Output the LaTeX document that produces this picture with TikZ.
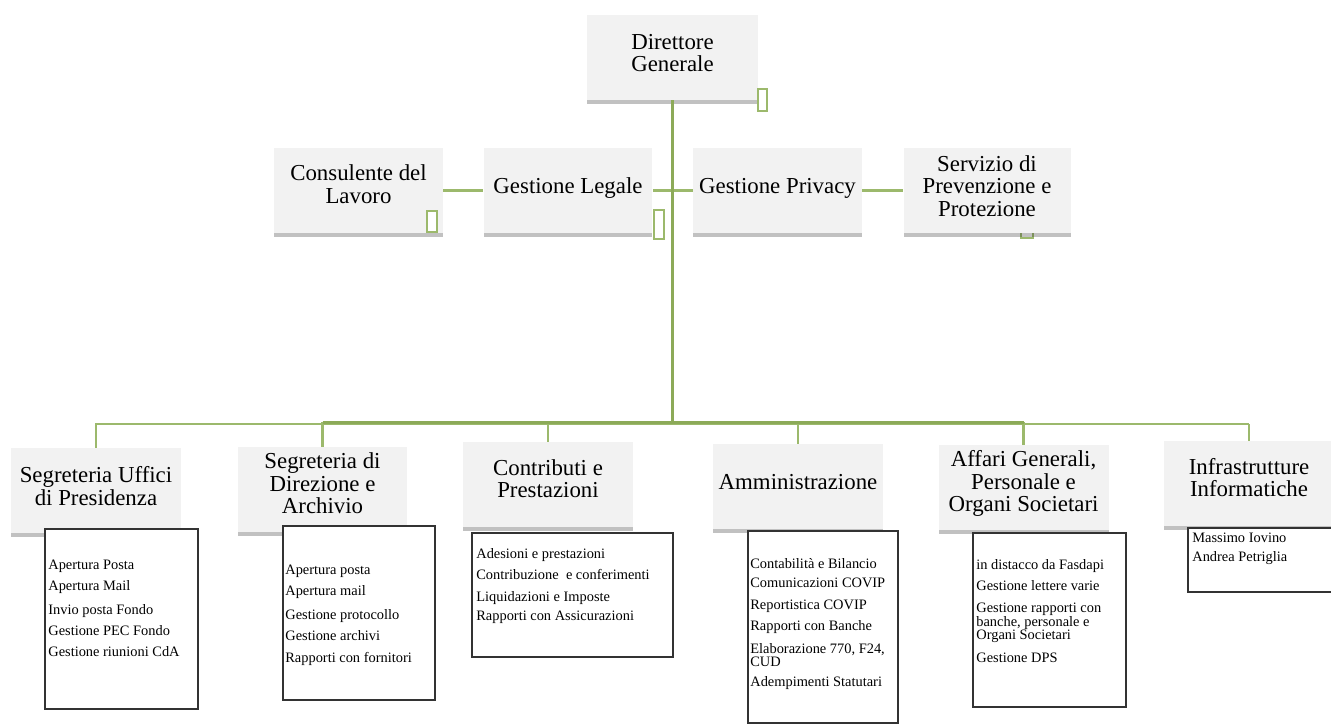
\documentclass[tikz,border=0pt]{standalone}
\usepackage{fontspec}
\setmainfont{Liberation Serif}
\usetikzlibrary{shadows}

\definecolor{boxgray}{HTML}{F2F2F2}
\definecolor{linkdark}{HTML}{8CAA58}
\definecolor{linklight}{HTML}{9CB96C}
\definecolor{framegray}{HTML}{333333}

\tikzset{
  office/.style={fill=boxgray, inner sep=0pt, minimum width=3.4cm, minimum height=1.7cm,
    drop shadow={shadow xshift=0pt, shadow yshift=-2pt, opacity=0.3, fill=black!80}},
  title/.style={align=center, inner sep=0pt, font=\fontsize{13pt}{12.8pt}\selectfont},
  tasks/.style={draw=framegray, line width=1.1pt, fill=white, inner sep=0pt},
  tasktext/.style={align=left, anchor=north west, inner sep=0pt, font=\fontsize{8.2pt}{7.4pt}\selectfont},
  link/.style={draw=linklight, line width=1.3pt},
  trunk/.style={draw=linkdark, line width=1.7pt},
  handle/.style={draw=linklight, fill=white, line width=0.9pt},
}

\begin{document}
\begin{tikzpicture}[x=0.02cm, y=-0.02cm]
  \useasboundingbox (0,0) rectangle (1331,724);

  % top
  \node[office, minimum width=3.42cm] (dg) at (672.5,57.5) {};
  \node[title] at ([yshift=2.6pt]dg.center) {Direttore\\Generale};

  \draw[handle] (1021,222) rectangle (1033,238);

  \node[office, minimum width=3.38cm, minimum height=1.72cm] (cl) at (358.5,190.5) {};
  \node[office, minimum width=3.38cm, minimum height=1.72cm] (gl) at (568,190.5) {};
  \node[office, minimum width=3.38cm, minimum height=1.72cm] (gp) at (777.5,190.5) {};
  \node[office, minimum width=3.34cm, minimum height=1.72cm] (sp) at (987,190.5) {};
  \node[title] at ([yshift=3.5pt]cl.center) {Consulente del\\Lavoro};
  \node[title] at ([yshift=1.2pt]gl.center) {Gestione Legale};
  \node[title] at ([yshift=1pt]gp.center) {Gestione Privacy};
  \node[title] at ([yshift=2.6pt]sp.center) {Servizio di\\Prevenzione e\\Protezione};

  % bottom
  \node[office] (su) at (96,490.5) {};
  \node[office] (sd) at (322.5,489.5) {};
  \node[office] (cp) at (548,484.5) {};
  \node[office] (am) at (798,486.5) {};
  \node[office] (ag) at (1023.5,487.5) {};
  \node[office] (in) at (1249,483.5) {};
  \node[title] at ([yshift=2.6pt]su.center) {Segreteria Uffici\\di Presidenza};
  \node[title] at ([yshift=3.4pt]sd.center) {Segreteria di\\Direzione e\\Archivio};
  \node[title] at ([yshift=3.4pt]cp.center) {Contributi e\\Prestazioni};
  \node[title] at ([yshift=2.6pt]am.center) {Amministrazione};
  \node[title] at ([yshift=2.3pt]ag.center) {Affari Generali,\\Personale e\\Organi Societari};
  \node[title] at ([yshift=3.4pt]in.center) {Infrastrutture\\Informatiche};

  % connectors
  \coordinate (bus) at (672,424);
  \coordinate (hub) at (672,422);
  \draw[link] (cl.east) -- (gl.west);
  \draw[link] (gl.east) -- (gp.west);
  \draw[link] (gp.east) -- (sp.west);
  \draw[link] (su.north) |- (in.north |- bus);
  \draw[link] (in.north) -- (in.north |- bus);
  \foreach \n in {sd,cp,am,ag}
    \draw[link] (\n.north) -- (\n.north |- hub);
  \draw[trunk] (sd.north |- hub) -- (ag.north |- hub);
  \draw[trunk] (dg.south) -- (dg.south |- hub);

  \draw[handle] (758,89) rectangle (767,111);
  \draw[handle] (427,211) rectangle (437,232);
  \draw[handle] (654,210) rectangle (664,239);

  % task lists
  \node[tasks, minimum width=3.06cm, minimum height=3.6cm] (sul) at (121.5,619) {};
  \node[tasks, minimum width=3.04cm, minimum height=3.48cm] (sdl) at (359,613) {};
  \node[tasks, minimum width=4.02cm, minimum height=2.48cm] (cpl) at (572.5,595) {};
  \node[tasks, minimum width=3cm, minimum height=3.84cm] (aml) at (823,627) {};
  \node[tasks, minimum width=3.06cm, minimum height=3.48cm] (agl) at (1049.5,620) {};
  \node[tasks, minimum width=2.88cm, minimum height=1.28cm] (inl) at (1260,560) {};

  \node[tasktext] at (48,560) {Apertura Posta\\[3.4pt] Apertura Mail\\[5.1pt] Invio posta Fondo\\[3.4pt]
    Gestione PEC Fondo\\[4.5pt] Gestione riunioni CdA};
  \node[tasktext] at (285,565) {Apertura posta\\[3.4pt] Apertura mail\\[5.1pt] Gestione protocollo\\[3.4pt]
    Gestione archivi\\[5.1pt] Rapporti con fornitori};
  \node[tasktext] at (476,548) {Adesioni e prestazioni\\[3.4pt] Contribuzione~ e conferimenti\\[5.1pt]
    Liquidazioni e Imposte\\[3.4pt] Rapporti con Assicurazioni};
  \node[tasktext] at (750,558) {Contabilità e Bilancio\\[3.4pt] Comunicazioni COVIP\\[5.1pt]
    Reportistica COVIP\\[3.4pt] Rapporti con Banche\\[5.1pt] Elaborazione 770, F24,\\ CUD\\[4pt]
    Adempimenti Statutari};
  \node[tasktext] at (976,559) {in distacco da Fasdapi\\[3.4pt] Gestione lettere varie\\[5.1pt]
    Gestione rapporti con\\ banche, personale e\\ Organi Societari\\[5.7pt] Gestione DPS};
  \node[tasktext] at (1192,533) {Massimo Iovino\\[3.4pt] Andrea Petriglia};
\end{tikzpicture}
\end{document}
